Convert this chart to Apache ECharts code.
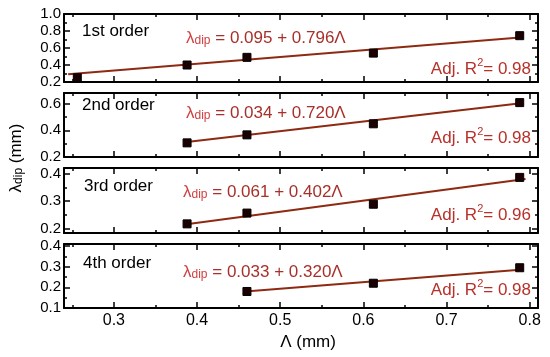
<!DOCTYPE html>
<html><head><meta charset="utf-8">
<script src="https://cdn.jsdelivr.net/npm/echarts@6/dist/echarts.min.js"></script>
<style>html,body{margin:0;padding:0;background:#fff}#c{width:550px;height:357px}</style>
</head><body><div id="c"></div>
<script>
// ---- data ----
const orderLabels = ['1st order', '2nd order', '3rd order', '4th order'];
const lambda1 = [0.256, 0.388, 0.460, 0.612, 0.788];
const dip1    = [0.250, 0.400, 0.490, 0.540, 0.745];
const lambda2 = [0.388, 0.460, 0.612, 0.788];
const dip2    = [0.306, 0.366, 0.449, 0.608];
const lambda3 = [0.388, 0.460, 0.612, 0.788];
const dip3    = [0.218, 0.257, 0.289, 0.386];
const lambda4 = [0.460, 0.612, 0.788];
const dip4    = [0.180, 0.220, 0.295];
const intercepts = [0.095, 0.034, 0.061, 0.033];
const slopes     = [0.796, 0.720, 0.402, 0.320];
const adjR2      = ['0.98', '0.98', '0.96', '0.98'];
const fitStart   = [0.245, 0.385, 0.385, 0.458];
const fitEnd     = [0.792, 0.792, 0.795, 0.792];
const xTickLabels = [0.3, 0.4, 0.5, 0.6, 0.7, 0.8];
const xMinorTicks = [0.25, 0.35, 0.45, 0.55, 0.65, 0.75];
const yTickLabels = [[0.2, 0.4, 0.6, 0.8, 1.0], [0.2, 0.4, 0.6], [0.2, 0.3, 0.4], [0.1, 0.2, 0.3, 0.4]];
const yMinorTicks = [[0.3, 0.5, 0.7, 0.9], [0.3, 0.5], [0.25, 0.35], [0.15, 0.25, 0.35]];
const yRanges = [[0.2, 1.0], [0.2, 0.68], [0.185, 0.42], [0.1, 0.41]];
const xRange = [0.24, 0.81];

const xs = [lambda1, lambda2, lambda3, lambda4];
const ys = [dip1, dip2, dip3, dip4];

// ---- layout ----
const gridTops = [14, 93, 168, 244];
const gridHeights = [68, 64, 65, 64];
const gridLeft = 64, gridRight = 12;
const FONT = 'Liberation Sans, Arial, sans-serif';
const lineColor = '#8e2a12';
const redText = '#b8302a';

const grids = [], xAxes = [], yAxes = [], series = [];
for (let i = 0; i < 4; i++) {
  grids.push({ left: gridLeft, right: gridRight, top: gridTops[i], height: gridHeights[i] });
  const mkX = (pos, major, labels) => ({
    type: 'value', gridIndex: i, position: pos, min: xRange[0], max: xRange[1],
    axisLine: { show: major, onZero: false, lineStyle: { color: '#000', width: 2 } },
    axisTick: { show: true, inside: true, length: major ? 6 : 3, lineStyle: { color: '#000', width: 1.5 },
      customValues: major ? xTickLabels : xMinorTicks },
    axisLabel: { show: labels, customValues: xTickLabels, color: '#000', fontSize: 16, fontFamily: FONT, margin: 5,
      formatter: v => v.toFixed(1) },
    splitLine: { show: false }
  });
  xAxes.push(mkX('bottom', true, i === 3), mkX('bottom', false, false), mkX('top', true, false), mkX('top', false, false));
  const mkY = (pos, major, labels) => ({
    type: 'value', gridIndex: i, position: pos, min: yRanges[i][0], max: yRanges[i][1],
    axisLine: { show: major, onZero: false, lineStyle: { color: '#000', width: 2 } },
    axisTick: { show: true, inside: true, length: major ? 6 : 3, lineStyle: { color: '#000', width: 1.5 },
      customValues: major ? yTickLabels[i] : yMinorTicks[i] },
    axisLabel: { show: labels, customValues: yTickLabels[i], color: '#000', fontSize: 15, fontFamily: FONT, margin: 3,
      formatter: v => v.toFixed(1) },
    splitLine: { show: false }
  });
  yAxes.push(mkY('left', true, true), mkY('left', false, false), mkY('right', true, false), mkY('right', false, false));

  const a = intercepts[i], b = slopes[i];
  series.push({
    type: 'line', xAxisIndex: 4 * i, yAxisIndex: 4 * i, showSymbol: false, silent: true, z: 2,
    lineStyle: { color: lineColor, width: 2 },
    data: [[fitStart[i], a + b * fitStart[i]], [fitEnd[i], a + b * fitEnd[i]]]
  });
  series.push({
    type: 'scatter', xAxisIndex: 4 * i, yAxisIndex: 4 * i, symbol: 'rect', symbolSize: 8, z: 3,
    itemStyle: { color: '#1a0000', borderColor: '#000', borderWidth: 1, opacity: 1 },
    data: xs[i].map((x, k) => [x, ys[i][k]])
  });
}

// ---- texts ----
const orderPos = [[82, 33], [82, 107], [84, 188], [83, 265]];
const eqPos = [[186, 38], [186, 113], [183, 192], [183, 272]];
const adjPos = [[531, 69], [531, 138], [531, 215], [531, 290]];
const graphics = [];
for (let i = 0; i < 4; i++) {
  graphics.push({ type: 'text', left: orderPos[i][0], top: orderPos[i][1] - 10,
    style: { text: orderLabels[i], fill: '#000', font: '17px ' + FONT } });
  graphics.push({ type: 'text', x: eqPos[i][0], y: eqPos[i][1],
    style: {
      text: '{l|λ}{s|dip}{n| = ' + intercepts[i].toFixed(3) + ' + ' + slopes[i].toFixed(3) + 'Λ}',
      verticalAlign: 'middle',
      rich: {
        l: { fill: '#d04040', font: '17px ' + FONT },
        s: { fill: '#d04040', font: '12px ' + FONT, verticalAlign: 'bottom', padding: [6, 0, 0, 0] },
        n: { fill: '#a8302a', font: '17px ' + FONT }
      }
    } });
  graphics.push({ type: 'text', x: adjPos[i][0], y: adjPos[i][1],
    style: {
      text: '{a|Adj. R}{p|2}{a|= ' + adjR2[i] + '}',
      align: 'right', verticalAlign: 'middle',
      rich: {
        a: { fill: redText, font: '17px ' + FONT },
        p: { fill: redText, font: '11px ' + FONT, padding: [0, 0, 12, 0] }
      }
    } });
}
graphics.push({ type: 'text', x: 16, y: 158, rotation: Math.PI / 2,
  style: { text: '{l|λ}{s|dip}{n| (mm)}', align: 'center', verticalAlign: 'middle',
    rich: {
      l: { fill: '#000', font: '17px ' + FONT },
      s: { fill: '#000', font: '12px ' + FONT, padding: [6, 0, 0, 0] },
      n: { fill: '#000', font: '17px ' + FONT }
    } } });
graphics.push({ type: 'text', x: 308, y: 342,
  style: { text: 'Λ (mm)', fill: '#000', font: '17px ' + FONT, align: 'center', verticalAlign: 'middle' } });

const chart = echarts.init(document.getElementById('c'), null, { renderer: 'canvas' });
chart.setOption({
  animation: false,
  backgroundColor: '#fff',
  grid: grids, xAxis: xAxes, yAxis: yAxes, series: series, graphic: graphics
});
</script>
</body></html>
